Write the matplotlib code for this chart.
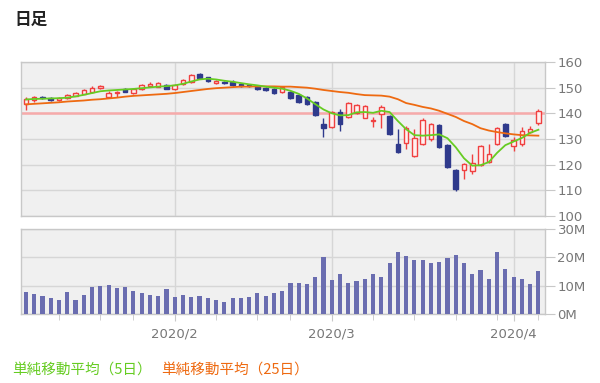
import numpy as np
import matplotlib
matplotlib.use("Agg")
import matplotlib.pyplot as plt

plt.rcParams['font.family'] = ['Noto Sans CJK JP', 'DejaVu Sans']

# ---- data ----
opens = [143.5, 145.3, 146.3, 146.0, 145.2, 145.8, 146.9, 147.6, 148.3, 149.8,
         146.3, 148.0, 149.5, 147.8, 149.5, 150.5, 150.4, 151.0, 149.5, 151.5,
         152.2, 155.3, 154.0, 151.8, 152.3, 152.4, 151.5, 151.1, 150.5, 150.0,
         149.5, 148.2, 148.3, 147.0, 146.5, 144.3, 135.8, 134.6, 140.4, 138.4,
         140.0, 138.2, 137.0, 139.6, 139.0, 128.2, 128.6, 123.5, 128.2, 130.0,
         135.6, 127.8, 118.0, 118.0, 117.5, 119.7, 121.0, 128.2, 135.9, 127.4,
         128.0, 132.6, 136.2]
highs = [146.2, 146.8, 146.6, 146.5, 146.4, 147.5, 148.3, 149.4, 150.6, 151.0,
         148.8, 148.6, 149.8, 150.0, 151.6, 152.2, 152.3, 151.4, 151.5, 153.4,
         155.3, 155.9, 154.3, 152.8, 152.5, 152.8, 151.7, 151.3, 150.8, 150.2,
         149.8, 150.8, 148.6, 147.3, 146.8, 144.7, 138.1, 141.0, 141.6, 144.4,
         143.6, 143.4, 138.7, 143.2, 139.4, 133.8, 135.0, 133.8, 138.0, 136.4,
         136.0, 128.2, 118.4, 120.6, 124.0, 127.6, 128.0, 134.8, 136.3, 130.6,
         134.6, 134.9, 141.8]
lows = [141.3, 144.6, 145.5, 144.8, 144.9, 145.6, 146.7, 147.4, 148.0, 149.6,
        145.8, 146.3, 148.2, 147.5, 149.2, 150.2, 150.1, 149.3, 149.2, 151.2,
        152.0, 153.5, 152.2, 151.6, 151.6, 150.7, 150.2, 150.3, 149.2, 148.6,
        147.6, 147.9, 145.6, 144.2, 143.3, 139.0, 130.9, 134.3, 133.1, 138.1,
        139.7, 138.0, 134.5, 134.4, 131.5, 124.6, 126.0, 122.8, 127.8, 129.2,
        126.3, 118.6, 109.8, 114.3, 116.5, 119.3, 120.5, 127.8, 130.8, 125.3,
        127.2, 132.4, 135.6]
closes = [145.7, 146.2, 145.8, 145.2, 145.9, 147.0, 147.8, 148.9, 150.0, 150.5,
          148.0, 148.4, 148.5, 149.5, 151.1, 151.6, 151.8, 149.6, 151.0, 153.0,
          154.8, 153.9, 152.6, 152.5, 152.0, 151.0, 150.5, 150.5, 149.5, 148.9,
          148.0, 150.4, 146.0, 144.5, 143.7, 139.3, 134.3, 140.7, 135.8, 144.0,
          143.2, 142.9, 137.4, 142.6, 131.8, 125.0, 134.4, 130.5, 137.5, 135.7,
          126.8, 119.2, 110.5, 120.2, 120.5, 127.2, 124.0, 134.2, 131.2, 129.8,
          133.3, 134.0, 141.0]
ma5 = [145.4, 145.6, 145.7, 145.8, 145.9, 146.1, 146.6, 147.2, 147.9, 148.6,
       148.9, 149.1, 149.3, 149.5, 149.8, 150.1, 150.4, 150.6, 150.9, 151.5,
       152.4, 153.2, 153.5, 153.2, 152.7, 152.3, 151.8, 151.3, 150.9, 150.4,
       150.0, 149.6, 148.8, 147.6, 145.8, 143.6, 141.5, 140.0, 139.2, 139.3,
       140.4, 140.5, 140.2, 141.0, 140.5, 137.0, 133.8, 131.5, 131.3, 131.5,
       131.8, 130.3, 126.8, 122.5, 119.6, 119.8, 121.0, 124.6, 127.6, 129.0,
       130.4, 132.4, 133.6]
ma25 = [143.5, 143.7, 143.9, 144.1, 144.3, 144.6, 144.8, 145.0, 145.3, 145.5,
        145.8, 146.1, 146.5, 146.8, 147.0, 147.2, 147.4, 147.6, 147.9, 148.3,
        148.7, 149.1, 149.5, 149.8, 150.0, 150.2, 150.4, 150.4, 150.5, 150.5,
        150.5, 150.4, 150.4, 150.2, 150.0, 149.6, 149.1, 148.7, 148.3, 148.0,
        147.5, 147.1, 147.0, 146.9, 146.5, 145.5, 144.0, 143.3, 142.5, 141.9,
        141.0, 139.8, 138.6, 137.0, 135.8, 134.2, 133.3, 132.7, 132.2, 131.8,
        131.5, 131.4, 131.3]
volume_m = [7.6, 7.1, 6.5, 5.6, 5.1, 7.6, 5.1, 6.7, 9.4, 9.8,
            10.4, 9.1, 9.4, 8.0, 7.4, 6.7, 6.5, 8.8, 5.9, 6.8,
            5.9, 6.5, 5.8, 5.1, 4.2, 5.6, 5.6, 6.0, 7.3, 6.5,
            7.4, 8.0, 10.9, 10.9, 10.6, 13.0, 20.0, 11.9, 14.0, 10.9,
            11.5, 12.5, 14.0, 13.0, 18.0, 22.0, 20.5, 19.0, 19.0, 18.1,
            18.5, 19.9, 21.0, 18.1, 14.0, 15.6, 12.5, 22.0, 16.0, 13.1,
            12.2, 10.5, 15.1]
ref_level = 140
month_pos = [18, 37, 59]
month_labels = ['2020/2', '2020/3', '2020/4']
week_pos = [4, 9, 13, 23, 28, 32, 42, 47, 52, 57, 62]
price_ticks = [100, 110, 120, 130, 140, 150, 160]
vol_ticks = [0, 10, 20, 30]
vol_labels = ['0M', '10M', '20M', '30M']
legend_5 = '単純移動平均（5日）'
legend_25 = '単純移動平均（25日）'
title = '日足'

# ---- style ----
W, H = 600, 383
bg = '#f0f0f0'
grid_c = '#d6d6d6'
border_c = '#c8c8c8'
tick_c = '#777777'
up_edge = '#f04040'
up_fill = '#fff0f0'
down_c = '#2f3a8c'
vol_c = '#6a6db0'
green = '#66cc22'
orange = '#ee6a11'

fig = plt.figure(figsize=(W / 100, H / 100), dpi=100)
ax1 = fig.add_axes([21 / W, 1 - 216 / H, 524 / W, 154 / H])
ax2 = fig.add_axes([21 / W, 1 - 314 / H, 524 / W, 85 / H])

x = np.arange(len(opens))
o = np.array(opens); c = np.array(closes)
hi = np.array(highs); lo = np.array(lows)
up = c >= o

for ax in (ax1, ax2):
    ax.set_facecolor(bg)
    for s in ax.spines.values():
        s.set_color(border_c)
        s.set_linewidth(1.0)
    ax.set_xlim(-0.6, 62.8)
    ax.set_axisbelow(True)

# price panel
ax1.axhline(ref_level, color='#f6aaaa', lw=1.8, zorder=1)
ax1.vlines(x[up], lo[up], hi[up], color=up_edge, lw=1.0, zorder=2)
ax1.vlines(x[~up], lo[~up], hi[~up], color=down_c, lw=1.0, zorder=2)
body_lo = np.minimum(o, c)
body_h = np.maximum(np.abs(c - o), 0.15)
ax1.bar(x[up], body_h[up], bottom=body_lo[up], width=0.55,
        color=up_fill, edgecolor=up_edge, linewidth=1.0, zorder=3)
ax1.bar(x[~up], body_h[~up], bottom=body_lo[~up], width=0.55,
        color=down_c, edgecolor=down_c, linewidth=1.0, zorder=3)
ax1.plot(x, ma25, color=orange, lw=1.3, zorder=4)
ax1.plot(x, ma5, color=green, lw=1.3, zorder=5)
ax1.set_ylim(100, 160)
ax1.set_yticks(price_ticks)
ax1.yaxis.tick_right()
ax1.set_xticks(month_pos)
ax1.set_xticklabels([])
ax1.tick_params(axis='x', length=0)
ax1.tick_params(axis='y', length=7, color=border_c, labelcolor=tick_c,
                labelsize=9.5, pad=2)
ax1.grid(True, color=grid_c, lw=1.0)

# volume panel
ax2.bar(x, volume_m, width=0.5, color=vol_c, zorder=3)
ax2.set_ylim(0, 30)
ax2.set_yticks(vol_ticks)
ax2.set_yticklabels(vol_labels)
ax2.yaxis.tick_right()
ax2.set_xticks(month_pos)
ax2.set_xticklabels(month_labels)
ax2.set_xticks(week_pos, minor=True)
ax2.tick_params(axis='x', which='major', length=5, color=border_c,
                labelcolor=tick_c, labelsize=9.5, pad=5)
ax2.tick_params(axis='x', which='minor', length=4, color=border_c)
ax2.tick_params(axis='y', length=7, color=border_c, labelcolor=tick_c,
                labelsize=9.5, pad=2)
ax2.grid(True, which='major', color=grid_c, lw=1.0)

for lab in ax1.get_yticklabels() + ax2.get_yticklabels() + ax2.get_xticklabels():
    lab.set_family(['DejaVu Sans'])

fig.text(14 / W, 1 - 20 / H, title, fontsize=12, fontweight='bold',
         va='center', ha='left', color='#222222')
fig.text(12 / W, 1 - 370 / H, legend_5, fontsize=10.5, color=green,
         va='center', ha='left')
fig.text(161 / W, 1 - 370 / H, legend_25, fontsize=10.5, color=orange,
         va='center', ha='left')

fig.savefig('out.png', dpi=100, facecolor='white')
